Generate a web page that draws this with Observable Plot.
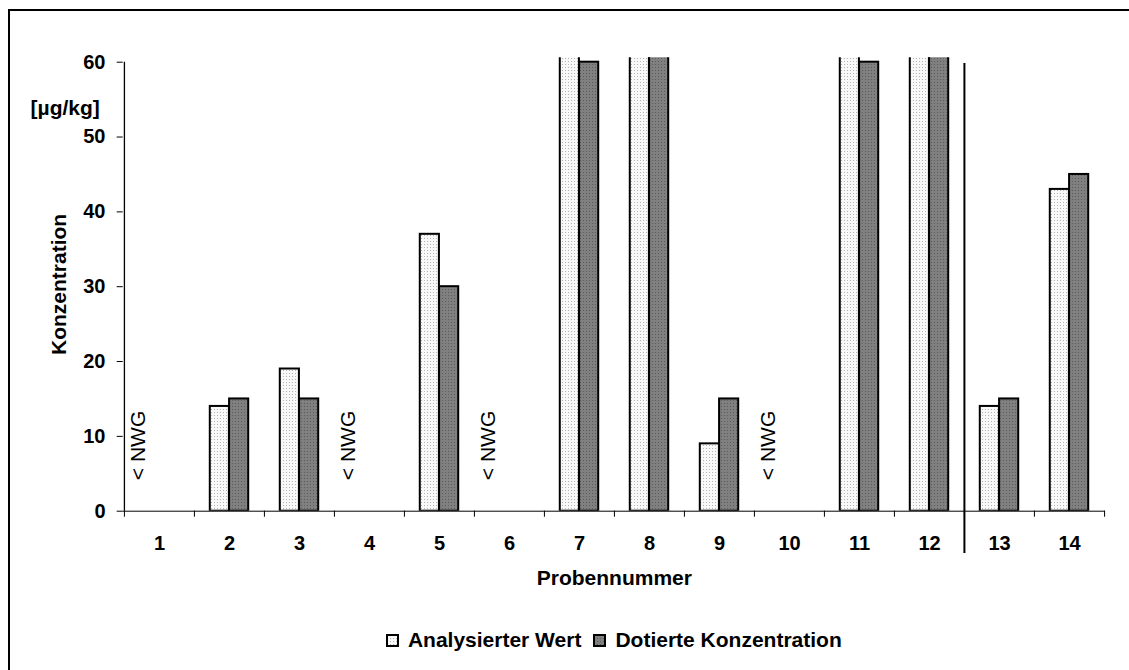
<!DOCTYPE html>
<html>
<head>
<meta charset="utf-8">
<script src="https://cdn.jsdelivr.net/npm/d3@7"></script>
<script src="https://cdn.jsdelivr.net/npm/@observablehq/plot@0.6"></script>
<style>
  body { margin: 0; background: #fff; font-family: "Liberation Sans", Arial, sans-serif; }
  #wrap { position: relative; width: 1129px; height: 670px; overflow: hidden; background: #fff; }
  #chart { position: absolute; left: 0; top: 0; }
  #frame { position: absolute; left: 8px; top: 9px; width: 1200px; height: 700px;
           border-left: 2px solid #000; border-top: 2px solid #000; pointer-events: none; }
  #legend { position: absolute; left: 122.7px; width: 982.3px; top: 630px; height: 20px;
            display: flex; justify-content: center; align-items: center;
            font-size: 21px; font-weight: bold; color: #000; line-height: 20px; }
  #legend .item { display: flex; align-items: center; margin: 0 6px; }
  #legend svg { margin-right: 9px; }
</style>
</head>
<body>
<div id="wrap">
  <div id="chart"></div>
  <div id="legend"></div>
  <div id="frame"></div>
</div>
<script>
// Sample numbers on the x axis
const samples = ["1", "2", "3", "4", "5", "6", "7", "8", "9", "10", "11", "12", "13", "14"];
// Measured concentration (µg/kg); null = below detection limit
const analysiert = [null, 14, 19, null, 37, null, 78, 84, 9, null, 72, 88, 14, 43];
// Spiked concentration (µg/kg)
const dotiert = [null, 15, 15, null, 30, null, 60, 70, 15, null, 60, 70, 15, 45];
// Samples marked as below the detection limit
const belowLimit = ["1", "4", "6", "10"];
const nwgText = "< NWG";
const yTicks = [0, 10, 20, 30, 40, 50, 60];
const seriesNames = ["Analysierter Wert", "Dotierte Konzentration"];
const splitBefore = "13";

const rows = samples.map((s, i) => ({sample: s, analysiert: analysiert[i], dotiert: dotiert[i]}));

const W = 1129, H = 610;
const mL = 122.7, mR = 24, mT = 57.2, mB = H - 510.7;
const step = (W - mL - mR) / samples.length;
const plotH = H - mT - mB;
const edge = step * 0.225, barW = step * 0.275;
const font = "'Liberation Sans', Arial, sans-serif";

// Fill patterns for the two series
const defs = () => {
  const d = d3.create("svg:defs");
  const p1 = d.append("pattern").attr("id", "pat-light").attr("patternUnits", "userSpaceOnUse")
    .attr("width", 3).attr("height", 3);
  p1.append("rect").attr("width", 3).attr("height", 3).attr("fill", "#f8f8f8");
  p1.append("rect").attr("x", 1).attr("y", 1).attr("width", 1).attr("height", 1).attr("fill", "#b4b4b4");
  const p2 = d.append("pattern").attr("id", "pat-dark").attr("patternUnits", "userSpaceOnUse")
    .attr("width", 3).attr("height", 3);
  p2.append("rect").attr("width", 3).attr("height", 3).attr("fill", "#808080");
  p2.append("rect").attr("x", 1).attr("y", 1).attr("width", 1).attr("height", 1).attr("fill", "#5c5c5c");
  return d.node();
};

const chart = Plot.plot({
  width: W,
  height: H,
  marginLeft: mL,
  marginRight: mR,
  marginTop: mT,
  marginBottom: mB,
  style: {fontFamily: font, background: "transparent", color: "#000", overflow: "visible"},
  x: {type: "band", domain: samples, padding: 0},
  y: {domain: [0, 60.6]},
  marks: [
    defs,
    Plot.barY(rows, {x: "sample", y: "analysiert", fill: "url(#pat-light)", stroke: "#000", strokeWidth: 2,
      insetLeft: edge, insetRight: edge + barW, clip: true}),
    Plot.barY(rows, {x: "sample", y: "dotiert", fill: "url(#pat-dark)", stroke: "#000", strokeWidth: 2,
      insetLeft: edge + barW, insetRight: edge, clip: true}),
    // x axis line and category boundary ticks
    Plot.ruleY([yTicks[0]], {stroke: "#000", strokeWidth: 1}),
    Plot.ruleX(samples, {x: d => d, dx: -step / 2, insetTop: plotH, insetBottom: -6, stroke: "#000"}),
    Plot.ruleX([samples[samples.length - 1]], {x: d => d, dx: step / 2, insetTop: plotH, insetBottom: -6, stroke: "#000"}),
    // y axis line
    Plot.ruleX([samples[0]], {x: d => d, dx: -step / 2, y1: () => yTicks[0], y2: () => yTicks[yTicks.length - 1],
      stroke: "#000", strokeWidth: 1.3}),
    // separator between samples 12 and 13
    Plot.ruleX([splitBefore], {x: d => d, dx: -step / 2, insetTop: 5.8, insetBottom: -42.3, stroke: "#000", strokeWidth: 2}),
    Plot.axisY(yTicks, {tickSize: 6, tickPadding: 11.7, fontSize: 20, fontWeight: "bold", label: null, stroke: "#000"}),
    Plot.axisX(samples, {tickSize: 0, tickPadding: 25, fontSize: 20, fontWeight: "bold", label: null}),
    // "< NWG" markers
    Plot.text(belowLimit, {x: d => d, text: () => nwgText, rotate: -90, frameAnchor: "bottom", dy: -65.7, dx: -15,
      textAnchor: "middle", fontSize: 21, fill: "#000"}),
    // axis titles
    Plot.text(["Konzentration"], {frameAnchor: "left", dx: -64, rotate: -90, textAnchor: "middle",
      fontSize: 21, fontWeight: "bold", fill: "#000"}),
    Plot.text(["[µg/kg]"], {frameAnchor: "top-left", dx: -58, dy: 42.8, textAnchor: "middle",
      fontSize: 21, fontWeight: "bold", fill: "#000"}),
    Plot.text(["Probennummer"], {frameAnchor: "bottom", dy: 74, textAnchor: "middle",
      fontSize: 21, fontWeight: "bold", fill: "#000"})
  ]
});
document.getElementById("chart").append(chart);

// Legend below the chart
const legend = d3.select("#legend");
const fills = ["url(#pat-light)", "url(#pat-dark)"];
seriesNames.forEach((name, i) => {
  const item = legend.append("div").attr("class", "item");
  const sw = item.append("svg").attr("width", 13).attr("height", 13);
  sw.append("rect").attr("x", 1).attr("y", 1).attr("width", 11).attr("height", 11)
    .attr("fill", fills[i]).attr("stroke", "#000").attr("stroke-width", 2);
  item.append("span").text(name);
});
</script>
</body>
</html>
